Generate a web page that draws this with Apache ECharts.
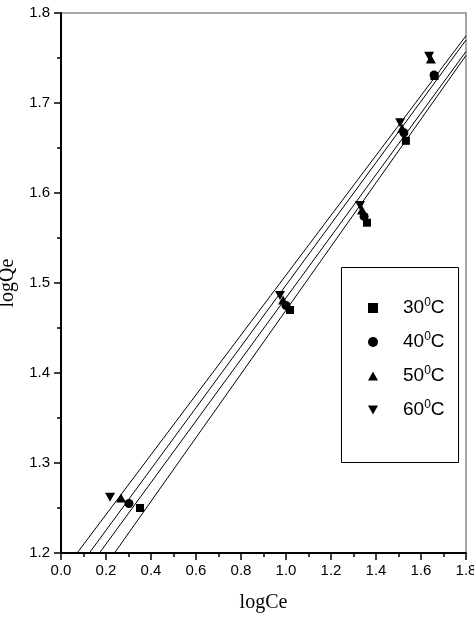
<!DOCTYPE html>
<html><head><meta charset="utf-8">
<script src="https://cdn.jsdelivr.net/npm/echarts@6/dist/echarts.min.js"></script>
<style>html,body{margin:0;padding:0;background:#fff}#c{width:474px;height:620px}</style>
</head><body><div id="c"></div>
<script>
// ---- data ----
const seriesNames = ['30', '40', '50', '60'];
const logCe30 = [0.351, 1.018, 1.360, 1.533, 1.660];
const logQe30 = [1.250, 1.470, 1.567, 1.658, 1.730];
const logCe40 = [0.302, 1.000, 1.347, 1.524, 1.658];
const logQe40 = [1.255, 1.475, 1.574, 1.667, 1.731];
const logCe50 = [0.267, 0.987, 1.338, 1.516, 1.644];
const logQe50 = [1.261, 1.481, 1.581, 1.672, 1.749];
const logCe60 = [0.218, 0.973, 1.329, 1.507, 1.636];
const logQe60 = [1.262, 1.486, 1.586, 1.678, 1.752];
const xTicks = [0, 1.8, 0.2];
const yTicks = [1.2, 1.8, 0.1];

const xs = [logCe30, logCe40, logCe50, logCe60];
const ys = [logQe30, logQe40, logQe50, logQe60];
const downTri = 'path://M0,0L10,0L5,9Z';
const upTri = 'path://M5,0L10,9L0,9Z';
const symbols = ['rect', 'circle', upTri, downTri];
const sizes = [[8, 8], [9, 9], [10, 9], [10, 9]];

function fit(x, y) {
  const n = x.length;
  const mx = x.reduce((a, b) => a + b, 0) / n;
  const my = y.reduce((a, b) => a + b, 0) / n;
  let sxy = 0, sxx = 0;
  for (let i = 0; i < n; i++) { sxy += (x[i] - mx) * (y[i] - my); sxx += (x[i] - mx) ** 2; }
  const b = sxy / sxx, a = my - b * mx;
  return [[xTicks[0], a + b * xTicks[0]], [xTicks[1], a + b * xTicks[1]]];
}

const series = [];
seriesNames.forEach((nm, i) => {
  series.push({
    type: 'line', data: fit(xs[i], ys[i]), showSymbol: false, symbol: 'none',
    lineStyle: { color: '#000', width: 1 }, silent: true, z: 1, clip: true
  });
});
seriesNames.forEach((nm, i) => {
  series.push({
    type: 'scatter', name: nm + '°C', data: xs[i].map((v, k) => [v, ys[i][k]]),
    symbol: symbols[i], symbolSize: sizes[i],
    itemStyle: { color: '#000', opacity: 1 }, z: 3
  });
});

const chart = echarts.init(document.getElementById('c'));
const axisCommon = {
  axisLine: { lineStyle: { color: '#000', width: 2 } },
  axisTick: { inside: false, length: 7, lineStyle: { color: '#000', width: 1.5 } },
  minorTick: { show: true, splitNumber: 2, length: 4, lineStyle: { color: '#000', width: 1.5 } },
  splitLine: { show: false },
  axisLabel: { color: '#000', fontSize: 15, fontFamily: 'Liberation Sans', formatter: v => v.toFixed(1) },
  nameLocation: 'middle',
  nameTextStyle: { color: '#000', fontSize: 20, fontFamily: 'Liberation Serif' }
};
chart.setOption({
  animation: false,
  backgroundColor: '#fff',
  grid: { left: 61, right: 8, top: 13, bottom: 67, show: true, borderColor: '#888', borderWidth: 1.5, outerBoundsMode: 'none', containLabel: false },
  xAxis: Object.assign({}, axisCommon, {
    type: 'value', min: xTicks[0], max: xTicks[1], interval: xTicks[2],
    name: 'logCe', nameGap: 40,
    axisLabel: Object.assign({}, axisCommon.axisLabel, { margin: 10 })
  }),
  yAxis: Object.assign({}, axisCommon, {
    type: 'value', min: yTicks[0], max: yTicks[1], interval: yTicks[2],
    name: 'logQe', nameGap: 40,
    axisLabel: Object.assign({}, axisCommon.axisLabel, { margin: 11 })
  }),
  graphic: [{
    type: 'rect', z: 3, shape: { x: 341.5, y: 267.5, width: 117, height: 195 },
    style: { fill: '#fff', stroke: '#000', lineWidth: 1 }
  }],
  legend: {
    orient: 'vertical', left: 363, top: 292, itemWidth: 10, itemHeight: 10, itemGap: 13.5,
    z: 10,
    itemStyle: { color: '#000', opacity: 1 },
    data: seriesNames.map(n => n + '°C'),
    formatter: name => '{n|' + name.slice(0, 2) + '}{s|0}{n|C}',
    textStyle: {
      padding: [0, 0, 0, 20],
      rich: {
        n: { fontSize: 19, lineHeight: 22, fontFamily: 'Liberation Sans', color: '#000' },
        s: { fontSize: 12, lineHeight: 22, fontFamily: 'Liberation Sans', color: '#000', verticalAlign: 'top', padding: [0, 0, 8, 0] }
      }
    }
  },
  series: series
});
</script></body></html>
